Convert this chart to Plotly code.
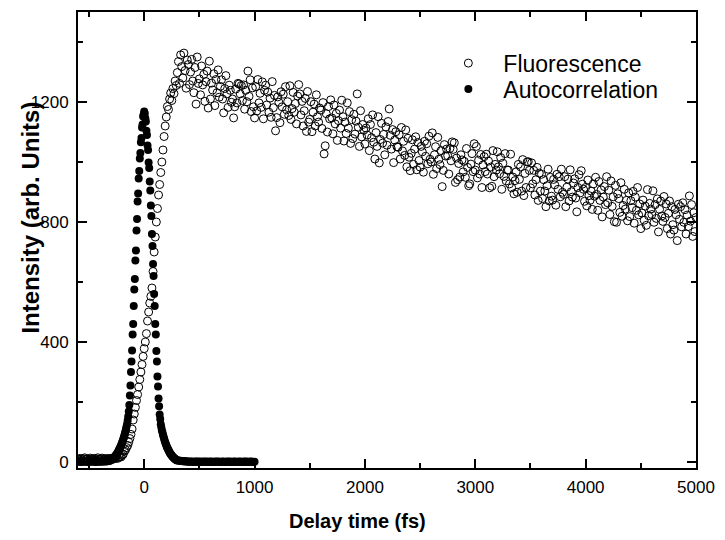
import plotly.graph_objects as go

# ---------------- data ----------------
# Fluorescence: delay grid -600 ... 5000 fs, 10 fs steps
fluo_delay = list(range(-600, 5001, 10))
fluo_signal = [
    10, 7, 12, 9, 6, 11, 14, 8, 10, 5,            # -600
    9, 13, 7, 11, 8, 12, 6, 10, 14, 9,            # -500
    8, 11, 13, 7, 10, 9, 12, 6, 11, 10,           # -400
    12, 9, 14, 11, 13, 15, 12, 16, 18, 17,        # -300
    22, 26, 36, 40, 48, 55, 66, 78, 92, 110,      # -200
    140, 160, 182, 205, 225, 250, 275, 300, 325, 352,   # -100
    378, 400, 428, 470, 500, 530, 552, 580, 635, 700,   # 0
    750, 800, 845, 890, 925, 965, 1000, 1040, 1085, 1120,  # 100
    1150, 1185, 1175, 1210, 1230, 1205, 1245, 1228, 1270, 1255,  # 200
    1298, 1335, 1262, 1357, 1318, 1280, 1363, 1305, 1246, 1340,  # 300
    1325, 1258, 1300, 1342, 1270, 1231, 1315, 1193, 1350, 1262,  # 400
    1277, 1224, 1320, 1257, 1292, 1202, 1268, 1303, 1180, 1336,  # 500
    1210, 1263, 1240, 1294, 1188, 1275, 1231, 1307, 1216, 1252,  # 600
    1274, 1210, 1164, 1245, 1288, 1227, 1182, 1256, 1239, 1199,  # 700
    1210, 1147, 1184, 1243, 1197, 1262, 1260, 1227, 1255, 1205,  # 800
    1257, 1176, 1239, 1201, 1303, 1219, 1274, 1168, 1247, 1184,  # 900
    1147, 1251, 1170, 1275, 1197, 1229, 1182, 1267, 1144, 1239,  # 1000
    1256, 1190, 1233, 1166, 1213, 1149, 1268, 1181, 1222, 1104,  # 1100
    1148, 1217, 1199, 1131, 1234, 1184, 1226, 1159, 1251, 1174,  # 1200
    1201, 1155, 1254, 1142, 1178, 1232, 1166, 1195, 1127, 1220,  # 1300
    1258, 1227, 1157, 1202, 1120, 1171, 1212, 1102, 1235, 1133,  # 1400
    1142, 1201, 1101, 1166, 1193, 1120, 1224, 1151, 1133, 1180,  # 1500
    1173, 1112, 1198, 1027, 1054, 1161, 1100, 1185, 1144, 1207,  # 1600
    1147, 1094, 1190, 1127, 1162, 1072, 1138, 1173, 1113, 1206,  # 1700
    1151, 1070, 1133, 1095, 1197, 1113, 1168, 1062, 1141, 1078,  # 1800
    1159, 1093, 1136, 1227, 1116, 1052, 1171, 1084, 1125, 1106,  # 1900
    1060, 1113, 1090, 1144, 1038, 1125, 1081, 1157, 1066, 1010,  # 2000
    1098, 1052, 1151, 997, 1075, 1129, 1063, 1092, 1024, 1117,   # 2100
    1056, 1135, 1177, 1089, 1043, 1108, 998, 1073, 1101, 1051,   # 2200
    1049, 1091, 1010, 1115, 1037, 1069, 1022, 1107, 984, 1079,   # 2300
    1016, 971, 1029, 1074, 992, 1043, 1084, 974, 1065, 1005,     # 2400
    983, 1052, 1034, 966, 1069, 1019, 1061, 994, 1086, 1009,     # 2500
    1000, 1097, 959, 1024, 1051, 978, 1082, 1009, 991, 1038,     # 2600
    918, 972, 1058, 1020, 1043, 1021, 960, 1045, 1004, 1067,     # 2700
    1042, 1064, 932, 1013, 941, 995, 950, 1024, 1007, 967,       # 2800
    1002, 949, 1045, 982, 921, 927, 993, 1028, 968, 1061,        # 2900
    973, 1052, 947, 1006, 960, 1025, 915, 990, 1018, 968,        # 3000
    1026, 960, 1003, 914, 983, 919, 1038, 951, 992, 973,         # 3100
    1034, 984, 961, 1015, 909, 996, 952, 1028, 937, 973,         # 3200
    973, 927, 1026, 914, 950, 894, 938, 967, 899, 992,           # 3300
    942, 984, 903, 1008, 888, 962, 915, 1000, 1001, 972,         # 3400
    914, 997, 927, 972, 890, 941, 982, 872, 963, 903,            # 3500
    959, 878, 941, 903, 851, 921, 976, 870, 949, 886,            # 3600
    873, 942, 924, 856, 959, 909, 951, 884, 976, 899,            # 3700
    892, 951, 851, 916, 943, 870, 974, 901, 883, 930,            # 3800
    944, 880, 834, 915, 958, 897, 971, 926, 909, 869,            # 3900
    915, 854, 940, 888, 872, 903, 842, 927, 886, 949,            # 4000
    892, 839, 935, 872, 907, 817, 883, 918, 858, 951,            # 4100
    864, 906, 825, 937, 852, 884, 801, 922, 799, 894,            # 4200
    878, 832, 931, 819, 855, 909, 843, 872, 804, 897,            # 4300
    818, 871, 848, 902, 796, 883, 839, 915, 824, 860,            # 4400
    778, 830, 873, 806, 853, 789, 908, 821, 862, 843,            # 4500
    825, 904, 799, 858, 812, 877, 767, 842, 870, 820,            # 4600
    802, 885, 815, 860, 778, 829, 870, 760, 851, 791,            # 4700
    773, 842, 824, 738, 859, 809, 851, 784, 864, 799,            # 4800
    841, 760, 823, 785, 887, 803, 858, 752, 831, 768,            # 4900
    815,                                                          # 5000
]

# Autocorrelation: delay grid (10 fs in the wings, 5 fs around the peak)
ac_delay = list(range(-600, -300, 10)) + list(range(-300, 301, 5)) + list(range(310, 1001, 10))
ac_left_tail = [2, 1, 3, 0, 2, 1, 2, 3, 1, 0, 2, 1, 3, 2, 1, 2, 0, 3, 1, 2,
                2, 1, 3, 2, 2, 3, 2, 3, 3, 4]
ac_core = [
    7, 8, 9, 11, 12, 14, 16, 18, 21, 23, 26, 29, 32, 35, 39, 43, 47, 51, 55, 60,
    65, 70, 76, 82, 88, 95, 102, 110, 118, 127, 138, 152, 168, 190, 222, 255, 300, 335, 372, 425,
    460, 520, 575, 610, 672, 705, 772, 810, 868, 895, 945, 970, 1012, 1030, 1066, 1080, 1115, 1125, 1152, 1158,
    1168,
    1162, 1146, 1135, 1104, 1090, 1055, 1040, 998, 980, 935, 905, 855, 820, 760, 720, 660, 620, 560, 520, 460,
    425, 370, 335, 285, 252, 212, 186, 158, 143, 126, 116, 106, 99, 91, 85, 78, 72, 66, 61, 56,
    51, 47, 43, 39, 36, 32, 29, 26, 24, 21, 19, 17, 15, 13, 11, 10, 9, 7, 6, 5,
]
ac_right_tail = [5, 4, 4, 3, 3, 2, 3, 2, 2, 1, 2, 1, 2, 1, 0, 2, 1, 2, 1, 1,
                 2, 0, 1, 2, 1, 1, 2, 0, 1, 2, 1, 1, 0, 2, 1, 1, 2, 1, 0, 1,
                 2, 1, 1, 0, 2, 1, 1, 2, 0, 1, 1, 2, 1, 0, 1, 2, 1, 1, 0, 2,
                 1, 1, 2, 0, 1, 1, 2, 1, 0, 1]
ac_signal = ac_left_tail + ac_core + ac_right_tail

x_tickvals = [0, 1000, 2000, 3000, 4000, 5000]
y_tickvals = [0, 400, 800, 1200]

assert len(fluo_delay) == len(fluo_signal), (len(fluo_delay), len(fluo_signal))
assert len(ac_delay) == len(ac_signal), (len(ac_delay), len(ac_signal))

FONT = "Liberation Sans"

fig = go.Figure()
fig.add_trace(go.Scatter(
    x=ac_delay, y=ac_signal, mode="markers", name="Autocorrelation",
    legend="legend2",
    marker=dict(symbol="circle", size=8, color="black"),
))
fig.add_trace(go.Scatter(
    x=fluo_delay, y=fluo_signal, mode="markers", name="Fluorescence",
    legend="legend",
    marker=dict(symbol="circle-open", size=8, color="black", line=dict(width=1, color="black")),
))

axis_common = dict(
    showline=True, linecolor="black", linewidth=2, mirror="ticks",
    ticks="inside", ticklen=9, tickwidth=2, tickcolor="black",
    showgrid=False, zeroline=False,
    tickfont=dict(family=FONT, size=17, color="black"),
)
fig.update_xaxes(range=[-600, 5000], tickvals=x_tickvals,
                 minor=dict(dtick=500, tick0=0, ticks="inside", ticklen=5, tickwidth=2, tickcolor="black"),
                 ticklabelstandoff=3,
                 **axis_common)
fig.update_yaxes(range=[-20, 1500], tickvals=y_tickvals,
                 minor=dict(dtick=200, tick0=0, ticks="inside", ticklen=5, tickwidth=2, tickcolor="black"),
                 ticklabelstandoff=4,
                 **axis_common)

legend_common = dict(xanchor="left", yanchor="top", bgcolor="rgba(0,0,0,0)", itemwidth=60,
                     font=dict(family=FONT, size=23, color="black"))
fig.update_layout(
    width=725, height=540,
    margin=dict(l=78, r=25, t=10, b=72),
    plot_bgcolor="white", paper_bgcolor="white",
    font=dict(family=FONT, color="black"),
    showlegend=True,
    legend=dict(x=0.575, y=0.935, **legend_common),
    legend2=dict(x=0.575, y=0.878, **legend_common),
    annotations=[
        dict(text="<b>Delay time (fs)</b>", xref="paper", yref="paper",
             x=0.453, y=-0.116, xanchor="center", yanchor="middle", showarrow=False,
             font=dict(family=FONT, size=20, color="black")),
        dict(text="<b>Intensity (arb. Units)</b>", xref="paper", yref="paper",
             x=-0.077, y=0.550, xanchor="center", yanchor="middle", showarrow=False,
             textangle=-90, font=dict(family=FONT, size=24, color="black")),
    ],
)

fig.write_html("out.html")
